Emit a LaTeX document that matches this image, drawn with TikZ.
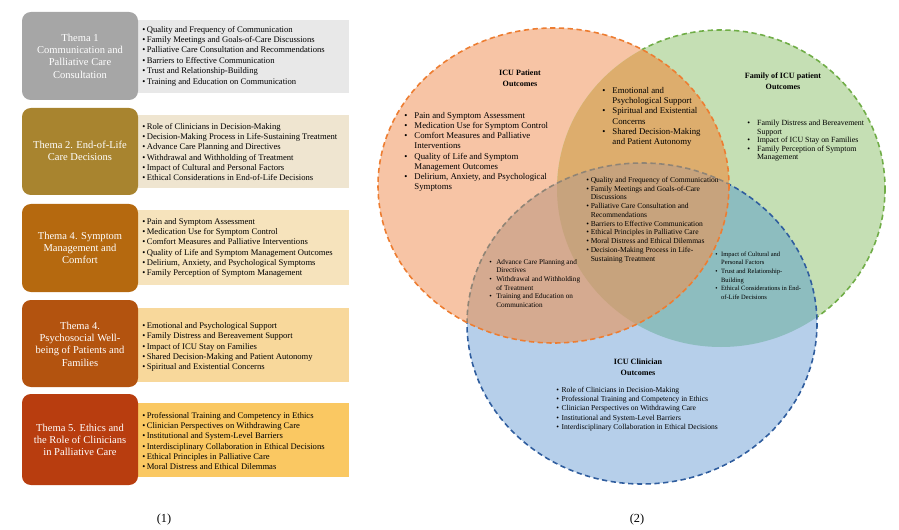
\documentclass[tikz,border=0pt]{standalone}
\usepackage{fontspec}
\setmainfont{Liberation Serif}
\usepackage{xcolor}

% left panel
\definecolor{thA}{HTML}{A6A6A6}
\definecolor{lsA}{HTML}{E8E8E8}
\definecolor{thB}{HTML}{A8842F}
\definecolor{lsB}{HTML}{EFE5D0}
\definecolor{thC}{HTML}{B5690F}
\definecolor{lsC}{HTML}{F6E3BC}
\definecolor{thD}{HTML}{B3530F}
\definecolor{lsD}{HTML}{F8D89B}
\definecolor{thE}{HTML}{B83D0F}
\definecolor{lsE}{HTML}{FAC862}
% venn
\definecolor{vo}{HTML}{F7C4A5}
\definecolor{vg}{HTML}{C5DFB4}
\definecolor{vb}{HTML}{B6CFEA}
\definecolor{vog}{HTML}{DDAD6D}
\definecolor{vgb}{HTML}{8DBDBF}
\definecolor{vob}{HTML}{D5AA90}
\definecolor{vogb}{HTML}{C7A37D}
\definecolor{voline}{HTML}{ED7D31}
\definecolor{vgline}{HTML}{70AD47}
\definecolor{vbline}{HTML}{2F5D9E}
\definecolor{vbin}{HTML}{8F8475}

\def\orangeC{(553.5,185.5) ellipse [x radius=175.5, y radius=157.5]}
\def\greenC{(721,188.5) ellipse [x radius=164, y radius=158.5]}
\def\blueC{(642,323.5) ellipse [x radius=175, y radius=160.5]}

\begin{document}
\begin{tikzpicture}[x=0.02cm, y=-0.02cm,
  thbox/.style={fill=#1, rounded corners=5pt},
  lsbox/.style={fill=#1},
  thtext/.style={text=white, align=center, inner sep=0pt, font=\fontsize{6}{7}\selectfont},
  lstext/.style={anchor=west, align=left, inner sep=0pt, font=\fontsize{4.9}{5.9}\selectfont},
  vdash/.style={dash pattern=on 3pt off 2pt, line width=0.9pt},
  vtitle/.style={align=center, inner sep=0pt, font=\bfseries\fontsize{4.6}{6}\selectfont},
  vlist/.style={anchor=west, inner sep=0pt}]
\useasboundingbox (0,0) rectangle (899,530);

% (1) themes
\fill[lsbox=lsA] (136,20) rectangle (349,93);
\fill[thbox=thA] (22,12) rectangle (138,100);
\node[thtext] (thema1) at (80,56) {Thema 1\\Communication and\\Palliative Care\\Consultation};
\node[lstext] (list1) at (142,56) {\textbullet\,Quality and Frequency of Communication\\
\textbullet\,Family Meetings and Goals-of-Care Discussions\\
\textbullet\,Palliative Care Consultation and Recommendations\\
\textbullet\,Barriers to Effective Communication\\
\textbullet\,Trust and Relationship-Building\\
\textbullet\,Training and Education on Communication};

\fill[lsbox=lsB] (136,115) rectangle (349,188);
\fill[thbox=thB] (22,108) rectangle (138,195);
\node[thtext] (thema2) at (80,151) {Thema 2. End-of-Life\\Care Decisions};
\node[lstext] (list2) at (142,152) {\textbullet\,Role of Clinicians in Decision-Making\\
\textbullet\,Decision-Making Process in Life-Sustaining Treatment\\
\textbullet\,Advance Care Planning and Directives\\
\textbullet\,Withdrawal and Withholding of Treatment\\
\textbullet\,Impact of Cultural and Personal Factors\\
\textbullet\,Ethical Considerations in End-of-Life Decisions};

\fill[lsbox=lsC] (136,210) rectangle (349,285);
\fill[thbox=thC] (22,204) rectangle (138,292);
\node[thtext] (thema3) at (80,248) {Thema 4. Symptom\\Management and\\Comfort};
\node[lstext] (list3) at (142,248) {\textbullet\,Pain and Symptom Assessment\\
\textbullet\,Medication Use for Symptom Control\\
\textbullet\,Comfort Measures and Palliative Interventions\\
\textbullet\,Quality of Life and Symptom Management Outcomes\\
\textbullet\,Delirium, Anxiety, and Psychological Symptoms\\
\textbullet\,Family Perception of Symptom Management};

\fill[lsbox=lsD] (136,308) rectangle (349,382);
\fill[thbox=thD] (22,300) rectangle (138,387);
\node[thtext] (thema4) at (80,344) {Thema 4.\\Psychosocial Well-\\being of Patients and\\Families};
\node[lstext] (list4) at (142,347) {\textbullet\,Emotional and Psychological Support\\
\textbullet\,Family Distress and Bereavement Support\\
\textbullet\,Impact of ICU Stay on Families\\
\textbullet\,Shared Decision-Making and Patient Autonomy\\
\textbullet\,Spiritual and Existential Concerns};

\fill[lsbox=lsE] (136,403) rectangle (349,477);
\fill[thbox=thE] (22,394) rectangle (138,485);
\node[thtext] (thema5) at (80,440) {Thema 5. Ethics and\\the Role of Clinicians\\in Palliative Care};
\node[lstext] (list5) at (142,441) {\textbullet\,Professional Training and Competency in Ethics\\
\textbullet\,Clinician Perspectives on Withdrawing Care\\
\textbullet\,Institutional and System-Level Barriers\\
\textbullet\,Interdisciplinary Collaboration in Ethical Decisions\\
\textbullet\,Ethical Principles in Palliative Care\\
\textbullet\,Moral Distress and Ethical Dilemmas};

% (2) venn
\fill[vo] \orangeC;
\fill[vg] \greenC;
\fill[vb] \blueC;
\begin{scope}
  \clip \greenC;
  \fill[vgb] \blueC;
\end{scope}
\begin{scope}
  \clip \orangeC;
  \fill[vog] \greenC;
  \fill[vob] \blueC;
  \clip \greenC;
  \fill[vogb] \blueC;
\end{scope}

\begin{scope}[even odd rule]
  \clip (0,0) rectangle (899,530) \orangeC;
  \clip (0,0) rectangle (899,530) \blueC;
  \draw[vdash, vgline] \greenC;
\end{scope}
\begin{scope}[even odd rule]
  \clip (0,0) rectangle (899,530) \orangeC;
  \draw[vdash, vbline] \blueC;
\end{scope}
\begin{scope}
  \clip \orangeC;
  \draw[vdash, vbin] \blueC;
\end{scope}
\draw[vdash, voline] \orangeC;

\node[vtitle] (pattitle) at (520,78) {ICU Patient\\Outcomes};
\node[vlist, font=\fontsize{5}{5.7}\selectfont] (patlist) at (404,152) {\begin{tabular}{@{}l@{\hspace{4pt}}l@{}}
\textbullet & Pain and Symptom Assessment\\
\textbullet & Medication Use for Symptom Control\\
\textbullet & Comfort Measures and Palliative\\
 & Interventions\\
\textbullet & Quality of Life and Symptom\\
 & Management Outcomes\\
\textbullet & Delirium, Anxiety, and Psychological\\
 & Symptoms
\end{tabular}};

\node[vlist, font=\fontsize{5}{5.7}\selectfont] (oglist) at (602,117) {\begin{tabular}{@{}l@{\hspace{4pt}}l@{}}
\textbullet & Emotional and\\
 & Psychological Support\\
\textbullet & Spiritual and Existential\\
 & Concerns\\
\textbullet & Shared Decision-Making\\
 & and Patient Autonomy
\end{tabular}};

\node[vtitle] (famtitle) at (783,81) {Family of ICU patient\\Outcomes};
\node[vlist, font=\fontsize{4.5}{4.8}\selectfont] (famlist) at (747,141) {\begin{tabular}{@{}l@{\hspace{4pt}}l@{}}
\textbullet & Family Distress and Bereavement\\
 & Support\\
\textbullet & Impact of ICU Stay on Families\\
\textbullet & Family Perception of Symptom\\
 & Management
\end{tabular}};

\node[vlist, font=\fontsize{4.3}{5}\selectfont] (midlist) at (586,220) {\begin{tabular}{@{}l@{\hspace{1pt}}l@{}}
\textbullet & Quality and Frequency of Communication\\
\textbullet & Family Meetings and Goals-of-Care\\
 & Discussions\\
\textbullet & Palliative Care Consultation and\\
 & Recommendations\\
\textbullet & Barriers to Effective Communication\\
\textbullet & Ethical Principles in Palliative Care\\
\textbullet & Moral Distress and Ethical Dilemmas\\
\textbullet & Decision-Making Process in Life-\\
 & Sustaining Treatment
\end{tabular}};

\node[vlist, font=\fontsize{4.1}{4.9}\selectfont] (oblist) at (489,284) {\begin{tabular}{@{}l@{\hspace{2.5pt}}l@{}}
\textbullet & Advance Care Planning and\\
 & Directives\\
\textbullet & Withdrawal and Withholding\\
 & of Treatment\\
\textbullet & Training and Education on\\
 & Communication
\end{tabular}};

\node[vlist, font=\fontsize{3.7}{4.9}\selectfont] (gblist) at (715,276) {\begin{tabular}{@{}l@{\hspace{2pt}}l@{}}
\textbullet & Impact of Cultural and\\
 & Personal Factors\\
\textbullet & Trust and Relationship-\\
 & Building\\
\textbullet & Ethical Considerations in End-\\
 & of-Life Decisions
\end{tabular}};

\node[vtitle] (clintitle) at (638,367) {ICU Clinician\\Outcomes};
\node[vlist, font=\fontsize{4.3}{5.25}\selectfont] (clinlist) at (556,409) {\begin{tabular}{@{}l@{\hspace{1.5pt}}l@{}}
\textbullet & Role of Clinicians in Decision-Making\\
\textbullet & Professional Training and Competency in Ethics\\
\textbullet & Clinician Perspectives on Withdrawing Care\\
\textbullet & Institutional and System-Level Barriers\\
\textbullet & Interdisciplinary Collaboration in Ethical Decisions
\end{tabular}};

\node[font=\fontsize{7}{8}\selectfont, inner sep=0pt] (lab1) at (164,520) {(1)};
\node[font=\fontsize{7}{8}\selectfont, inner sep=0pt] (lab2) at (637,520) {(2)};
\end{tikzpicture}
\end{document}
